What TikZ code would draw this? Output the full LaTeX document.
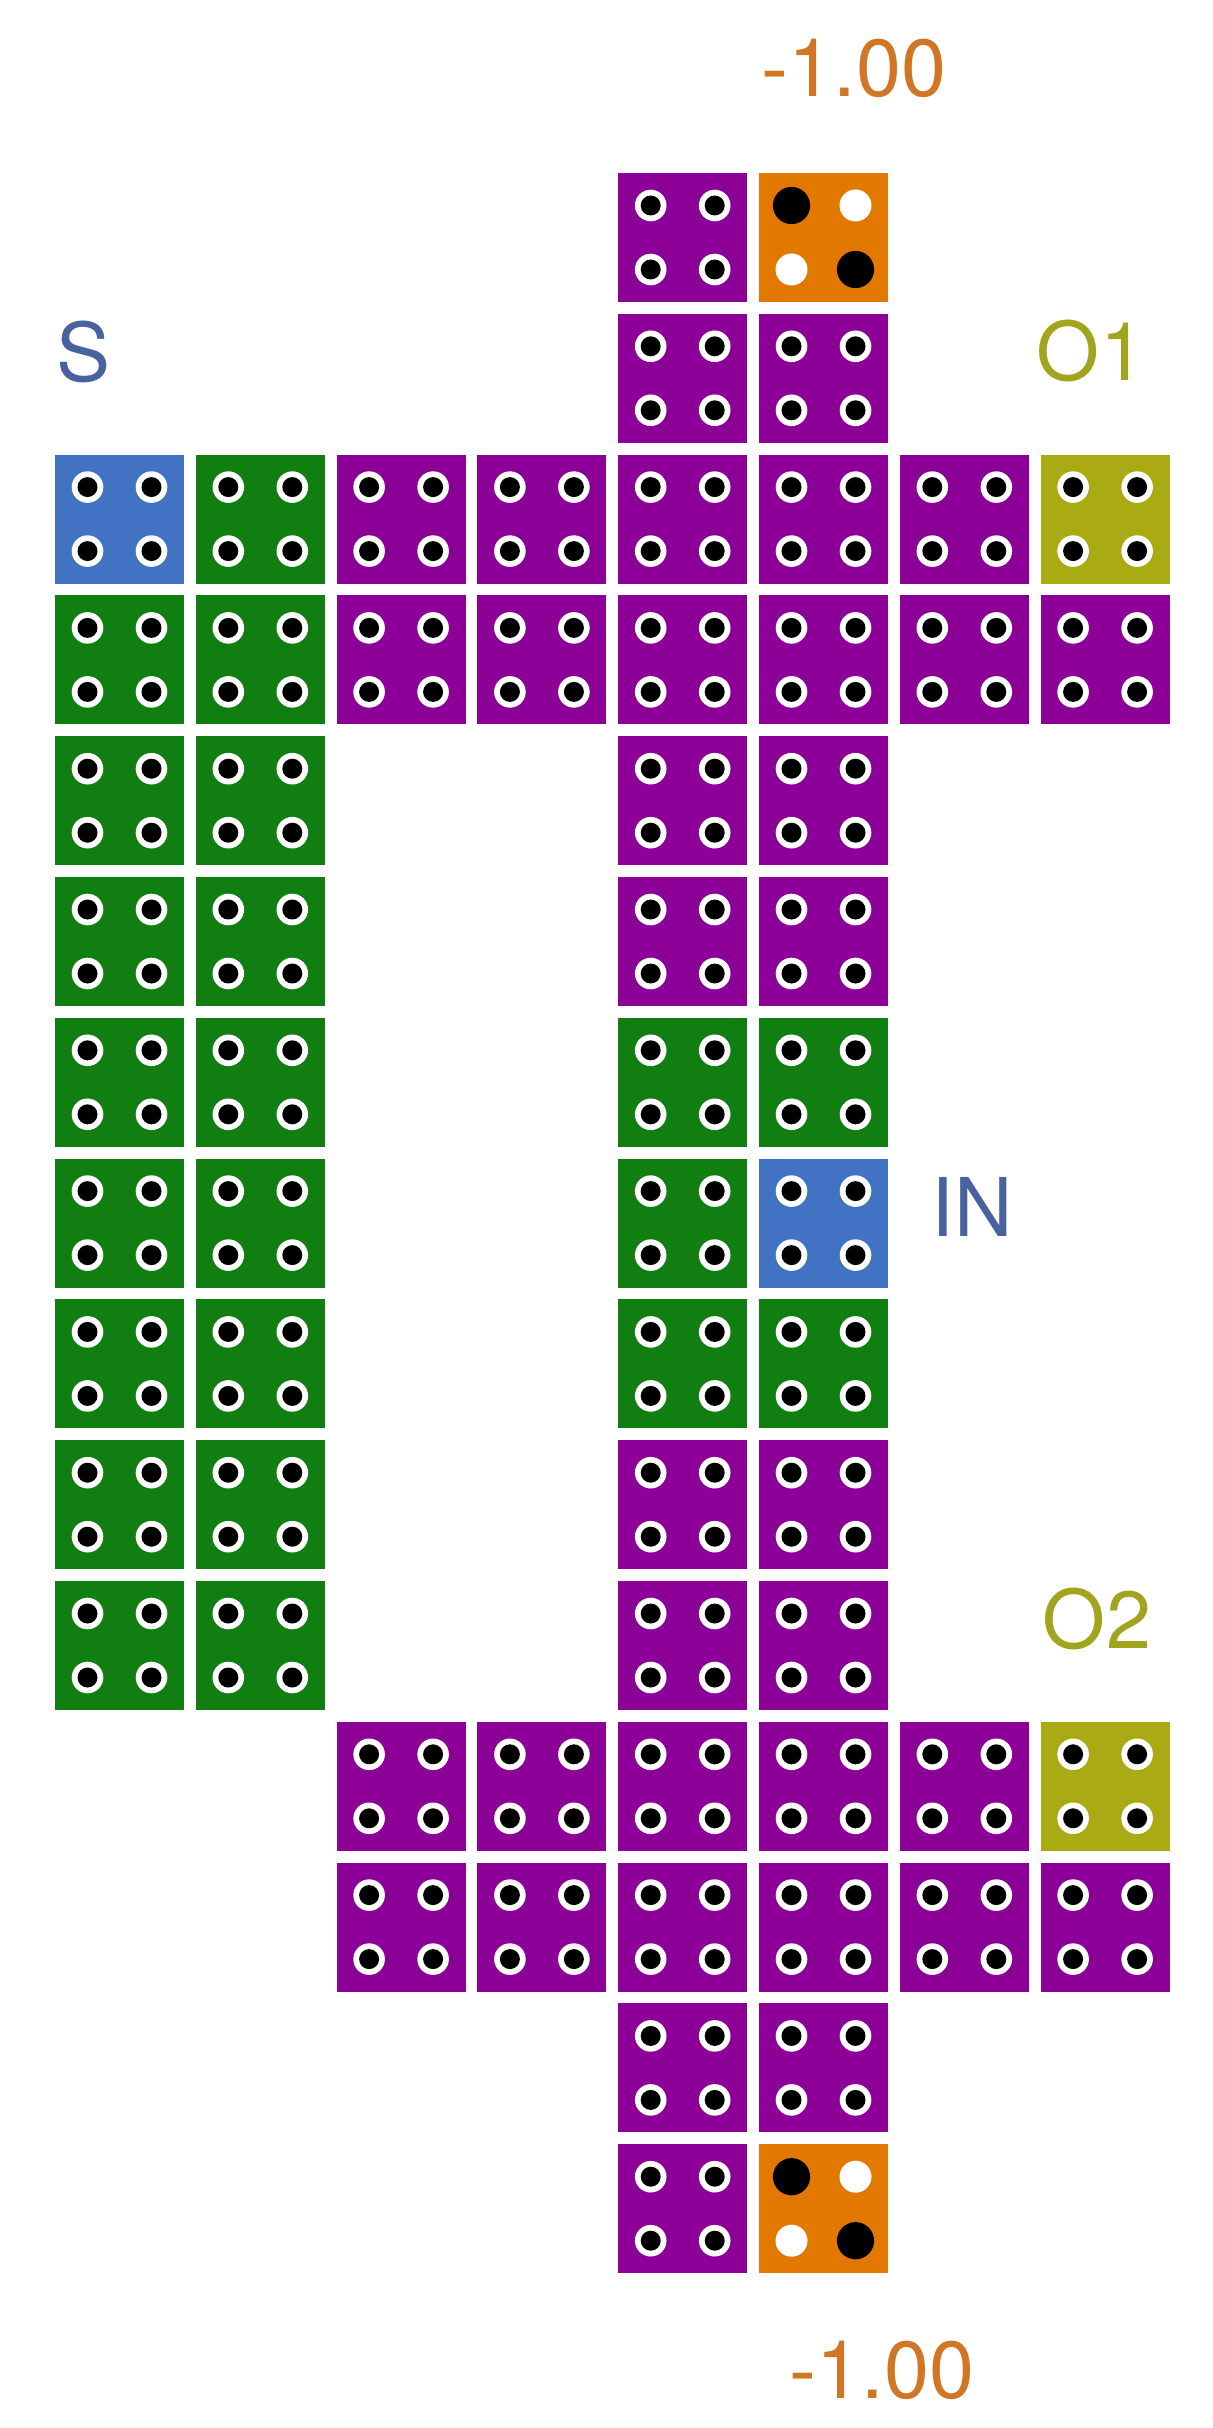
\documentclass[tikz,border=0pt]{standalone}
\usepackage{fontspec}
\setmainfont{TeX Gyre Heros}
\definecolor{pu}{RGB}{140,0,152}
\definecolor{gr}{RGB}{16,126,16}
\definecolor{bl}{RGB}{66,114,196}
\definecolor{ol}{RGB}{170,170,18}
\definecolor{orc}{RGB}{226,120,0}
\definecolor{bltext}{RGB}{72,98,160}
\definecolor{oltext}{RGB}{160,164,30}
\definecolor{ortext}{RGB}{208,118,36}
\begin{document}
\begin{tikzpicture}[x=0.5pt,y=-0.5pt,
  cellbox/.style={draw=none,minimum size=64.5pt,inner sep=0pt,outer sep=0pt},
  lab/.style={font=\fontsize{40.5}{48}\selectfont,inner sep=0pt,anchor=center}]
\useasboundingbox (0,0) rectangle (1212,2428);
\fill[white] (0,0) rectangle (1212,2428);
% ordinary cells
\foreach \r/\c/\col in {
  0/4/pu, 1/4/pu, 1/5/pu,
  2/0/bl, 2/1/gr, 2/2/pu, 2/3/pu, 2/4/pu, 2/5/pu, 2/6/pu, 2/7/ol,
  3/0/gr, 3/1/gr, 3/2/pu, 3/3/pu, 3/4/pu, 3/5/pu, 3/6/pu, 3/7/pu,
  4/0/gr, 4/1/gr, 4/4/pu, 4/5/pu,
  5/0/gr, 5/1/gr, 5/4/pu, 5/5/pu,
  6/0/gr, 6/1/gr, 6/4/gr, 6/5/gr,
  7/0/gr, 7/1/gr, 7/4/gr, 7/5/bl,
  8/0/gr, 8/1/gr, 8/4/gr, 8/5/gr,
  9/0/gr, 9/1/gr, 9/4/pu, 9/5/pu,
  10/0/gr, 10/1/gr, 10/4/pu, 10/5/pu,
  11/2/pu, 11/3/pu, 11/4/pu, 11/5/pu, 11/6/pu, 11/7/ol,
  12/2/pu, 12/3/pu, 12/4/pu, 12/5/pu, 12/6/pu, 12/7/pu,
  13/4/pu, 13/5/pu,
  14/4/pu} {
  \node[cellbox,fill=\col] (b\r-\c) at ({119.5+140.8*\c},{237.5+140.8*\r}) {};
  \foreach \dx/\dy in {-32/-32,32/-32,-32/32,32/32} {
    \fill[white] ([shift={(\dx,\dy)}]b\r-\c.center) circle[radius=7.9pt];
    \fill[black] ([shift={(\dx,\dy)}]b\r-\c.center) circle[radius=5pt];
  }
}
% orange cells
\foreach \r/\c in {0/5, 14/5} {
  \node[cellbox,fill=orc] (b\r-\c) at ({119.5+140.8*\c},{237.5+140.8*\r}) {};
  \fill[black] ([shift={(-32,-32)}]b\r-\c.center) circle[radius=9.3pt];
  \fill[white] ([shift={(32,-32)}]b\r-\c.center) circle[radius=8pt];
  \fill[white] ([shift={(-32,32)}]b\r-\c.center) circle[radius=8pt];
  \fill[black] ([shift={(32,32)}]b\r-\c.center) circle[radius=9.3pt];
}
% labels
\node[lab,text=ortext] (valtop) at (854,68) {-1.00};
\node[lab,text=ortext] (valbot) at (882,2370) {-1.00};
\node[lab,text=bltext] (labS) at (84,352) {S};
\node[lab,text=oltext] (labO1) at (1091,351) {O1};
\node[lab,text=bltext] (labIN) at (972,1207) {IN};
\node[lab,text=oltext] (labO2) at (1097,1619) {O2};
\end{tikzpicture}
\end{document}
